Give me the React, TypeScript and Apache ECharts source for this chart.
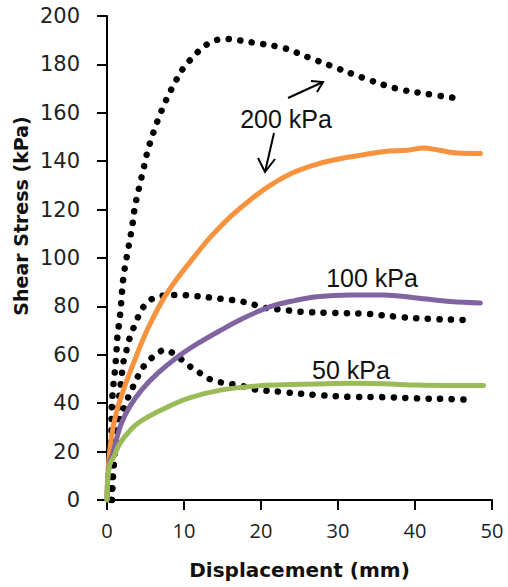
import React, { useEffect, useRef } from "react";
import * as echarts from "echarts";

// Displacement (mm), Shear stress (kPa)
const peak200: [number, number][] = [
  [0.55, 0], [0.57, 20], [0.62, 38], [0.78, 46], [1.0, 52.4], [1.2, 60], [1.35, 67.5],
  [1.56, 72.7], [1.74, 77.8], [1.87, 82.6], [2.0, 88], [2.17, 93], [2.43, 98], [2.73, 103.3],
  [3.04, 108.8], [3.3, 113.6], [3.5, 118.7], [3.8, 124], [4.2, 129.5], [4.55, 134.3],
  [4.9, 139], [5.3, 144.6], [5.8, 149.5], [6.25, 154], [6.85, 159], [7.5, 164], [8.2, 168.7],
  [9.0, 173.6], [9.9, 178.4], [11.0, 182.5], [12.1, 186], [13.6, 189.4], [15.5, 190.5],
  [17.0, 190], [19.0, 189], [22.9, 186.8], [26.4, 182.6], [29.0, 179.5], [33.3, 174.4],
  [37.6, 170], [41.1, 168], [45.5, 166],
];
const peak100: [number, number][] = [
  [0.6, 0], [0.9, 18], [1.3, 32], [1.6, 43], [1.9, 51], [2.1, 56.5], [2.5, 61.5], [2.95, 67],
  [3.6, 72.3], [4.25, 77], [5.3, 82], [7.07, 84.3], [9.2, 84.7], [11.4, 84.3], [13.6, 83.6],
  [15.5, 82.9], [17.5, 82], [19.2, 80.6], [20.7, 79.3], [22.9, 78.6], [25.1, 77.8],
  [29.4, 77.3], [33.8, 76.9], [38.1, 75.6], [42.0, 74.8], [46.3, 74.4], [47.5, 74.2],
];
const peak50: [number, number][] = [
  [0.6, 0], [0.9, 15], [1.3, 27], [1.9, 35], [2.5, 40.6], [3.2, 45.5], [4.0, 51], [4.9, 55.8],
  [6.0, 59.2], [7.5, 62], [9.2, 59.2], [10.5, 55.8], [12.1, 52.4], [13.6, 49.6], [15.5, 48.2],
  [17.3, 47.3], [19.2, 45.7], [22.9, 44.6], [27.2, 43.4], [31.6, 42.6], [35.9, 42.5],
  [40.2, 42], [44.6, 41.7], [47.6, 41.3],
];
const curve200: [number, number][] = [
  [0, 0], [0.13, 12], [0.57, 26], [1.2, 36], [2.3, 47], [3.5, 57], [4.7, 66.5], [5.55, 72.5],
  [7.3, 83], [9.0, 91], [11.2, 100], [13.4, 108.5], [16.0, 117], [18.6, 124],
  [21.2, 130], [24.0, 135], [27.0, 138.5], [29.4, 140.5], [33.0, 142.5], [36.0, 144],
  [39.0, 144.5], [41.1, 145.5], [43.0, 144.6], [45.5, 143.4], [48.5, 143.2],
];
const curve100: [number, number][] = [
  [0, 0], [0.13, 10], [0.4, 16], [0.78, 19.3], [1.2, 24.8], [1.87, 31.7], [2.95, 38.6],
  [4.5, 45.5], [6.6, 52.4], [9.2, 59.2], [11.8, 64.7], [14.8, 70.2], [17.5, 74.8],
  [21.2, 79.9], [24.5, 82.5], [27.2, 84], [31.6, 84.7], [35.9, 84.7], [40.2, 83.5],
  [44.6, 82], [48.5, 81.4],
];
const curve50: [number, number][] = [
  [0, 0], [0.13, 10], [0.4, 15], [1.0, 18.6], [1.43, 22], [2.3, 26.2], [4.0, 31.7],
  [7.07, 37.2], [10.5, 42], [14.9, 45.5], [20.1, 47.3], [24.0, 47.7], [27.0, 47.9],
  [31.6, 48.2], [36.0, 48], [40.2, 47.5], [44.6, 47.3], [48.9, 47.3],
];

const annotations = [
  { text: "200 kPa", x: 286, y: 119 },
  { text: "100 kPa", x: 372, y: 278 },
  { text: "50 kPa", x: 351, y: 370 },
];

export default function App() {
  const ref = useRef<HTMLDivElement>(null);
  useEffect(() => {
    document.body.style.margin = "0";
    const chart = echarts.init(ref.current!, null, { renderer: "svg" });
    const dotted = (data: [number, number][]) => ({
      type: "line",
      data,
      smooth: 0.35,
      showSymbol: false,
      symbol: "none",
      lineStyle: { color: "#000", width: 6.5, type: [0.1, 11.5], cap: "round" },
    });
    const solid = (data: [number, number][], color: string) => ({
      type: "line",
      data,
      smooth: 0.35,
      showSymbol: false,
      symbol: "none",
      lineStyle: { color, width: 5, cap: "round", join: "round" },
    });
    const arrowStyle = { stroke: "#000", lineWidth: 2 };
    chart.setOption({
      animation: false,
      backgroundColor: "#fff",
      grid: { left: 107, right: 16, top: 16, bottom: 87 },
      xAxis: {
        type: "value",
        min: 0,
        max: 50,
        interval: 10,
        name: "Displacement (mm)",
        nameLocation: "middle",
        nameGap: 60,
        nameTextStyle: { fontFamily: "DejaVu Sans", fontWeight: "bold", fontSize: 20, color: "#111" },
        axisLine: { lineStyle: { color: "#000", width: 2 } },
        axisTick: { show: true, length: 10, lineStyle: { color: "#000", width: 2 } },
        axisLabel: { margin: 20, fontFamily: "Open Sans", fontSize: 20, color: "#222" },
        splitLine: { show: false },
      },
      yAxis: {
        type: "value",
        min: 0,
        max: 200,
        interval: 20,
        axisLine: { show: true, lineStyle: { color: "#000", width: 2 } },
        axisTick: { show: true, length: 10, lineStyle: { color: "#000", width: 2 } },
        axisLabel: { margin: 27, fontFamily: "DejaVu Sans", fontSize: 21, color: "#222" },
        splitLine: { show: false },
      },
      series: [
        dotted(peak200),
        dotted(peak100),
        dotted(peak50),
        solid(curve200, "#F7923E"),
        solid(curve100, "#8064A2"),
        solid(curve50, "#9BBB59"),
      ],
      graphic: [
        {
          type: "text",
          x: 21,
          y: 216,
          rotation: Math.PI / 2,
          style: {
            text: "Shear Stress (kPa)",
            fontFamily: "DejaVu Sans",
            fontWeight: "bold",
            fontSize: 19,
            fill: "#111",
            align: "center",
            verticalAlign: "middle",
          },
        },
        ...annotations.map((a) => ({
          type: "text",
          x: a.x,
          y: a.y,
          style: {
            text: a.text,
            fontFamily: "Liberation Sans",
            fontSize: 25,
            fill: "#111",
            align: "center",
            verticalAlign: "middle",
          },
        })),
        { type: "line", shape: { x1: 288, y1: 98, x2: 323, y2: 82 }, style: arrowStyle },
        { type: "polyline", shape: { points: [[311, 81], [323, 82], [317, 92]] }, style: { ...arrowStyle, fill: null } },
        { type: "line", shape: { x1: 274, y1: 133, x2: 265, y2: 172 }, style: arrowStyle },
        { type: "polyline", shape: { points: [[258, 158], [265, 172], [275, 159]] }, style: { ...arrowStyle, fill: null } },
      ],
    });
    return () => chart.dispose();
  }, []);
  return <div ref={ref} style={{ width: 508, height: 587 }} />;
}
